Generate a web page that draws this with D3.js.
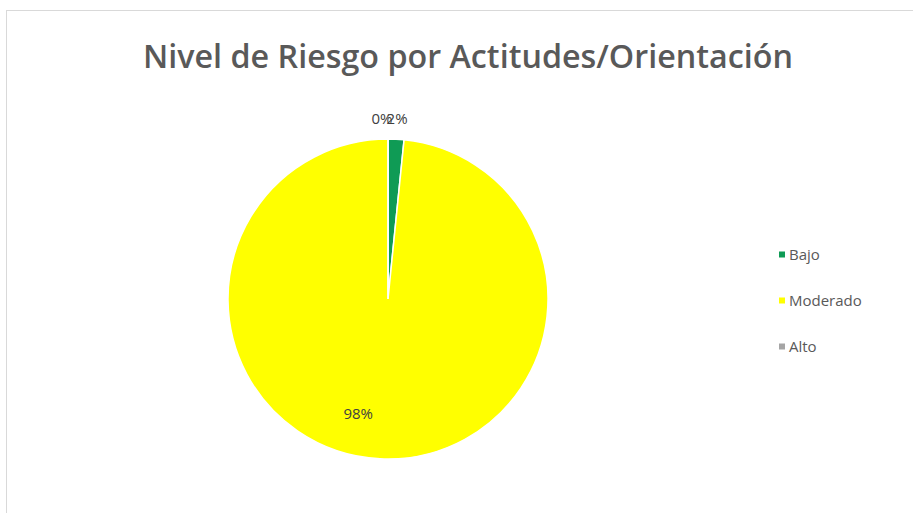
<!DOCTYPE html>
<html>
<head>
<meta charset="utf-8">
<script src="https://cdn.jsdelivr.net/npm/d3@7"></script>
<style>
  body { margin: 0; background: #fff; }
  svg { display: block; font-family: "Open Sans", "Noto Sans", sans-serif; }
</style>
</head>
<body>
<svg id="chart" width="913" height="513"></svg>
<script>
const title = 'Nivel de Riesgo por Actitudes/Orientación';
const categories = ['Bajo', 'Moderado', 'Alto'];
const values = [0.016, 0.984, 0];
const colors = ['#0f9b55', '#ffff00', '#a5a5a5'];

const svg = d3.select('#chart');
const width = 913, height = 513;

// chart area border
svg.append('rect')
    .attr('x', 6.5).attr('y', 10.5)
    .attr('width', width).attr('height', height)
    .attr('fill', '#fff')
    .attr('stroke', '#d9d9d9');

svg.append('text')
    .attr('x', 468).attr('y', 68)
    .attr('text-anchor', 'middle')
    .attr('font-size', 33)
    .attr('font-weight', 600)
    .attr('fill', '#595959')
    .attr('textLength', 650)
    .attr('lengthAdjust', 'spacingAndGlyphs')
    .text(title);

const data = categories.map((c, i) => ({ name: c, value: values[i], color: colors[i] }));

const cx = 388, cy = 299, r = 160;
const g = svg.append('g').attr('transform', `translate(${cx},${cy})`);

const pie = d3.pie().sort(null).value(d => d.value);
const arc = d3.arc().innerRadius(0).outerRadius(r);
const arcs = pie(data);

g.selectAll('path.slice')
    .data(arcs)
    .join('path')
    .attr('class', 'slice')
    .attr('d', arc)
    .attr('fill', d => d.data.color)
    .attr('stroke', '#fff')
    .attr('stroke-width', 1.5);

const fmt = d3.format('.0%');
const outerArc = d3.arc().innerRadius(r + 20).outerRadius(r + 20);
const innerArc = d3.arc().innerRadius(r * 0.72).outerRadius(r * 0.72);

g.selectAll('text.lbl')
    .data(arcs)
    .join('text')
    .attr('class', 'lbl')
    .attr('transform', d => {
        let p;
        if (d.data.value < 0.05) {
            p = outerArc.centroid(d);
            if (d.data.value === 0) p[0] -= 6;
        } else {
            p = innerArc.centroid(d);
            p[0] -= 24;
        }
        return `translate(${p[0]},${p[1]})`;
    })
    .attr('text-anchor', 'middle')
    .attr('dy', '0.35em')
    .attr('font-size', 15)
    .attr('fill', '#404040')
    .text(d => fmt(d.data.value));

// legend
const legend = svg.append('g').attr('transform', 'translate(779,255)');
const li = legend.selectAll('g')
    .data(data)
    .join('g')
    .attr('transform', (d, i) => `translate(0,${i * 46})`);
li.append('rect')
    .attr('x', 0).attr('y', -3.5)
    .attr('width', 6).attr('height', 6)
    .attr('fill', d => d.color);
li.append('text')
    .attr('x', 10).attr('dy', '0.35em')
    .attr('font-size', 15)
    .attr('fill', '#595959')
    .text(d => d.name);
</script>
</body>
</html>
